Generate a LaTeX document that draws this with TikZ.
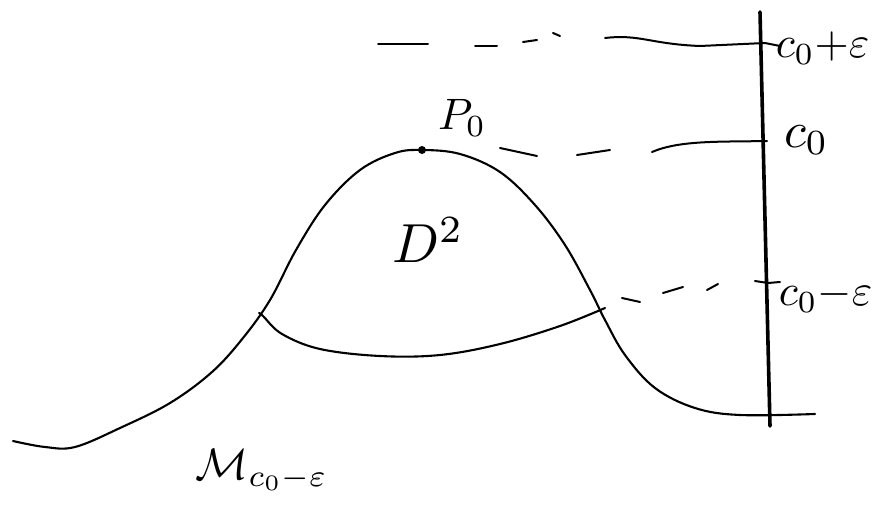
\documentclass[tikz,border=0pt]{standalone}
\usepackage{amsmath}
\begin{document}
\begin{tikzpicture}[x=1pt, y=-1pt, line cap=round, line join=round,
  curve/.style={line width=2.1pt},
  level/.style={line width=2pt},
  axis/.style={line width=3.6pt},
  lab/.style={inner sep=0pt, scale=4.4}]
\useasboundingbox (0,0) rectangle (881,511);
% vertical axis with the three levels
\coordinate (top) at (760,12);
\coordinate (bot) at (770,426);
\draw[axis] (top) -- (bot);
\coordinate (up) at (765,43);
\coordinate (mid) at (767,141);
\coordinate (low) at (768,283);
% the surface
\draw[curve] plot[smooth, tension=0.6] coordinates {(13,441) (45,447) (75,447)
  (120,428) (170,403) (212,372) (243,338) (270,300) (296,250) (325,205)
  (360,170) (395,153) (422,150) (460,154) (500,172) (535,205) (565,245)
  (590,290) (605,320) (625,355) (655,388) (695,408) (740,415) (815,414)};
% boundary of the disc
\draw[curve] plot[smooth, tension=0.6] coordinates {(259,313) (263,316)
  (282,334) (320,349) (380,356) (440,355) (500,344) (560,326) (605,308)};
% level c0 + eps
\draw[level] (378,44) -- (428,44);
\draw[level] (475,46) -- (497,46);
\draw[level] (523,42) -- (537,40);
\draw[level] (553,33) -- (560,36);
\draw[level] (605,38) .. controls (640,34) and (650,44) .. (700,46) -- (up) -- (780,46);
% level c0
\draw[level] (500,148) -- (537,156);
\draw[level] (577,155) -- (610,150);
\draw[level] (652,152) .. controls (680,140) and (720,142) .. (mid);
% level c0 - eps
\draw[level] (622,298) -- (640,302);
\draw[level] (663,293) -- (683,287);
\draw[level] (707,290) -- (718,284);
\draw[level] (755,281) -- (low) -- (780,282);
% peak point
\fill (422,150) circle (4pt);
% labels
\node[lab, anchor=west] (lup) at (775,48) {$c_0{+}\varepsilon$};
\node[lab, anchor=west, scale=1.15] (lmid) at (783,140) {$c_0$};
\node[lab, anchor=west] (llow) at (778,296) {$c_0{-}\varepsilon$};
\node[lab] (p0) at (462,118) {$P_0$};
\node[lab, scale=1.25] (disc) at (428,240) {$D^2$};
\node[lab, anchor=west] (mlev) at (195,470) {$\mathcal{M}_{c_0-\varepsilon}$};
\end{tikzpicture}
\end{document}
